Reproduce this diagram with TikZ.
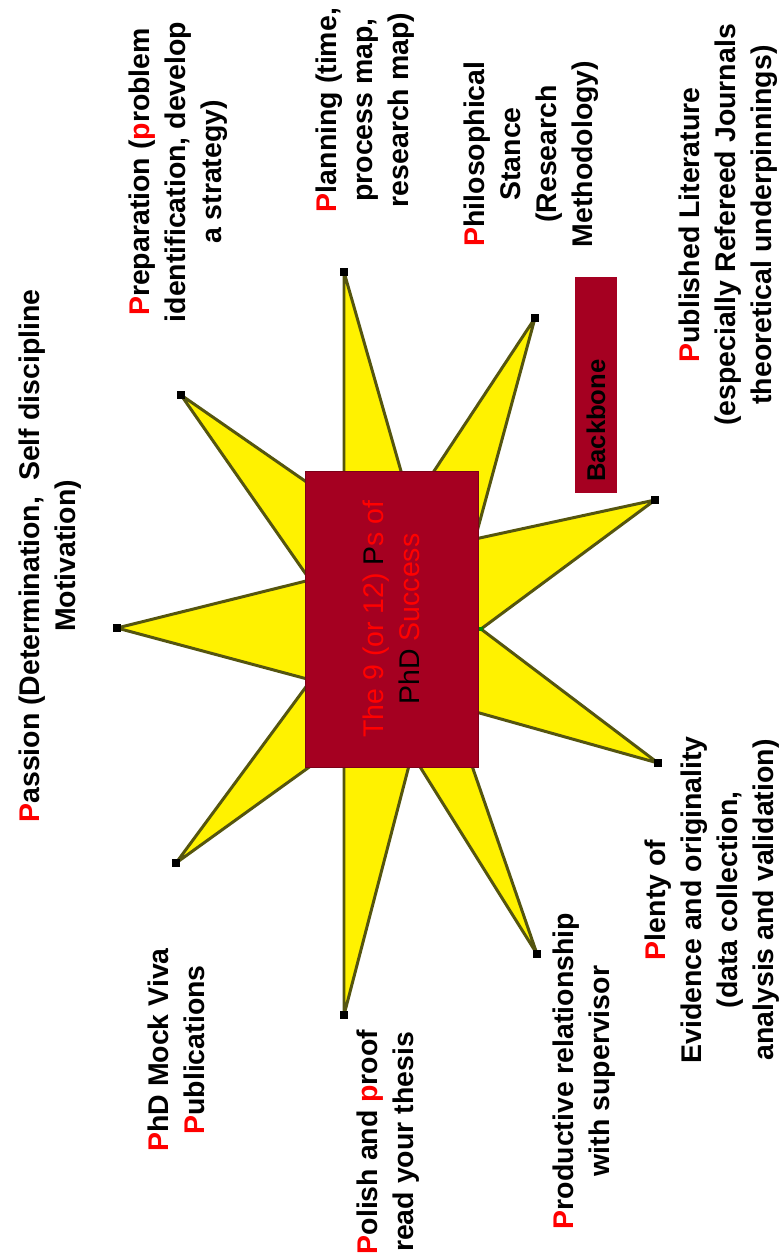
\documentclass[tikz,border=0pt]{standalone}
\usepackage{fontspec}
\setmainfont{Liberation Sans}
\usetikzlibrary{positioning}
\definecolor{boxred}{HTML}{A50021}
\definecolor{rayline}{HTML}{55550F}
\newcommand{\rp}[1]{\textcolor{red}{#1}}

\begin{document}
\begin{tikzpicture}[x=0.02cm, y=-0.02cm,
  every node/.style={font=\bfseries\fontsize{16.2}{20.5}\selectfont},
  lbl/.style={rotate=90, align=center, inner sep=0pt},
  tipdot/.style={fill=black, inner sep=0pt, minimum size=0.16cm}]
  \useasboundingbox (0,0) rectangle (779,1258);

  % star: tips and inner corners
  \coordinate (t1) at (117,628);  \coordinate (i1) at (310,580);
  \coordinate (t2) at (181,395);  \coordinate (i2) at (344,508);
  \coordinate (t3) at (344,272);  \coordinate (i3) at (411,506);
  \coordinate (t4) at (535,318);  \coordinate (i4) at (475,539);
  \coordinate (t5) at (655,500);  \coordinate (i5) at (481,629);
  \coordinate (t6) at (658,763);  \coordinate (i6) at (451,705);
  \coordinate (t7) at (537,954);  \coordinate (i7) at (412,754);
  \coordinate (t8) at (344,1015); \coordinate (i8) at (344,742);
  \coordinate (t9) at (176,863);  \coordinate (i9) at (311,680);
  \filldraw[fill=yellow, draw=rayline, line width=1.7pt, line join=round]
    (t1) -- (i1) -- (t2) -- (i2) -- (t3) -- (i3) -- (t4) -- (i4) -- (t5) -- (i5)
    -- (t6) -- (i6) -- (t7) -- (i7) -- (t8) -- (i8) -- (t9) -- (i9) -- cycle;
  \foreach \k in {1,...,9}
    \node[tipdot] (dot\k) at (t\k) {};
  \node[fill=green!55!black, inner sep=0pt, minimum size=0.09cm] (vtx) at (i5) {};

  % centre box
  \node[draw=boxred!75!black, fill=boxred, rotate=90, align=center,
        minimum width=5.92cm, minimum height=3.46cm,
        font=\fontsize{16.2}{20.5}\selectfont] (title) at (391.5,619)
    {\rp{The 9 (or 12) }P\rp{s of}\\PhD \rp{Success}};
  \node[fill=boxred, rotate=90, inner xsep=0.22cm, text width=3.88cm, align=left,
        minimum height=0.84cm, font=\bfseries\fontsize{14.6}{17}\selectfont]
    (backbone) at (596,385) {Backbone};

  % the Ps
  \node[lbl] (passion) at (50,556) {\rp{P}assion (Determination,~~Self discipline\\Motivation)};
  \node[lbl] (prep) at (178,172) {\rp{P}reparation (\rp{p}roblem\\identification, develop\\a strategy)};
  \node[lbl] (plan) at (365,110) {\rp{P}lanning (time,\\process map,\\research map)};
  \node[lbl] (philo) at (531,154) {\rp{P}hilosophical\\Stance\\(Research\\Methodology)};
  \node[lbl] (publit) at (728,225) {\rp{P}ublished Literature\\(especially Refereed Journals\\theoretical underpinnings)};
  \node[lbl] (plenty) at (712,900) {\rp{P}lenty of\\Evidence and originality\\(data collection,\\analysis and validation)};
  \node[lbl] (prod) at (584,1071) {\rp{P}roductive relationship\\with supervisor};
  \node[lbl] (polish) at (388,1142) {\rp{P}olish and \rp{p}roof\\read your thesis};
  \node[lbl] (viva) at (176,1050) {\rp{P}hD Mock Viva\\\rp{P}ublications};
\end{tikzpicture}
\end{document}
